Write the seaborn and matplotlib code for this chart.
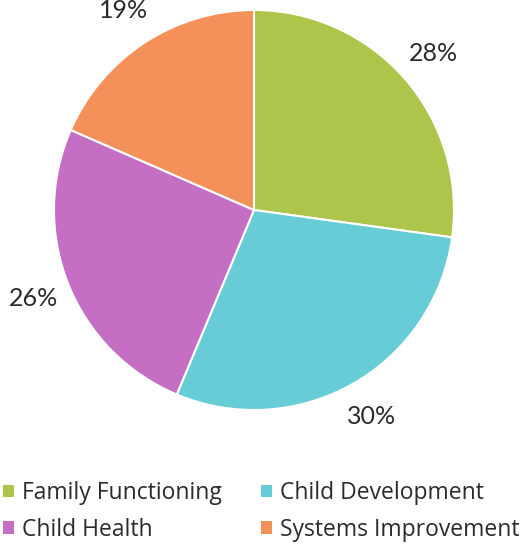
import matplotlib
matplotlib.use("Agg")
import matplotlib.pyplot as plt
from matplotlib import font_manager as fm
from matplotlib.patches import Patch
import seaborn as sns

categories = ["Family Functioning", "Child Development", "Child Health", "Systems Improvement"]
shares = [28, 30, 26, 19]
pct_labels = ["28%", "30%", "26%", "19%"]
colors = ["#ADC54A", "#67CCD5", "#C46FC4", "#F4905A"]

palette = sns.color_palette(colors)
plt.rcParams["font.family"] = ["Open Sans", "DejaVu Sans"]

label_font = fm.FontProperties(family="Lato", style="normal", weight="normal", size=18)
legend_font = fm.FontProperties(family="Open Sans", style="normal", weight="normal", size=16.5)

W, H = 521, 544
fig = plt.figure(figsize=(W / 100, H / 100), dpi=100)
cx, cy, r = 254, 210, 200
ax = fig.add_axes([(cx - r) / W, (H - cy - r) / H, 2 * r / W, 2 * r / H])

wedges, texts = ax.pie(
    shares,
    labels=pct_labels,
    colors=palette,
    startangle=90,
    counterclock=False,
    labeldistance=1.19,
    wedgeprops=dict(edgecolor="white", linewidth=1.5),
)
for t in texts:
    t.set_fontproperties(label_font)
    t.set_color("#2b2b2b")
    t.set_ha("center")
    t.set_va("center")
    t.set_clip_on(False)
ax.set_xlim(-1, 1)
ax.set_ylim(-1, 1)
ax.set_aspect("equal")
ax.axis("off")

# legend is filled column by column: reorder so rows read left to right
order = [0, 2, 1, 3]
handles = [Patch(facecolor=palette[i], edgecolor="none") for i in order]
names = [categories[i] for i in order]
fig.legend(
    handles, names,
    loc="lower left", bbox_to_anchor=(3 / W, 0.004),
    ncol=2, frameon=False,
    prop=legend_font, labelcolor="#2b2b2b",
    handlelength=0.48, handleheight=0.48, handletextpad=0.35,
    columnspacing=1.72, labelspacing=0.55,
    borderaxespad=0, borderpad=0,
)

fig.savefig("out.png", dpi=100, facecolor="white")
